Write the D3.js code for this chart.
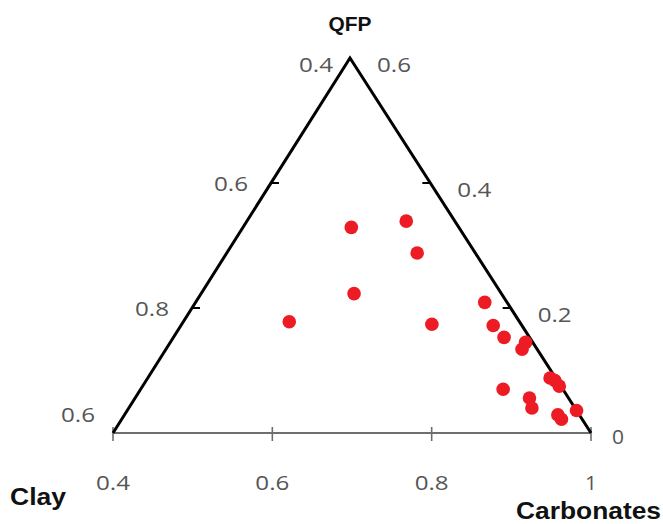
<!DOCTYPE html>
<html>
<head>
<meta charset="utf-8">
<script src="https://cdn.jsdelivr.net/npm/d3@7"></script>
<style>
  html, body { margin: 0; padding: 0; background: #fff; }
  svg { display: block; }
</style>
</head>
<body>
<svg id="chart" width="663" height="524"></svg>
<script>
// Sample compositions (mass fractions): carbonates, QFP and clay
const carbonates = [0.536, 0.600, 0.639, 0.592, 0.533, 0.714, 0.763, 0.792, 0.815, 0.846,
                    0.847, 0.855, 0.895, 0.906, 0.905, 0.913, 0.923, 0.944, 0.952, 0.964];
const qfp        = [0.329, 0.339, 0.288, 0.223, 0.178, 0.174, 0.209, 0.172, 0.153, 0.145,
                    0.134, 0.070, 0.056, 0.040, 0.088, 0.084, 0.075, 0.029, 0.022, 0.036];
const clay       = [0.135, 0.061, 0.073, 0.185, 0.289, 0.112, 0.028, 0.036, 0.032, 0.009,
                    0.019, 0.075, 0.049, 0.054, 0.007, 0.003, 0.002, 0.027, 0.026, 0.000];

// Axis ticks
const baseTicks = [0.4, 0.6, 0.8, 1];
const baseTickLabels = ["0.4", "0.6", "0.8", "1"];
const rightTicks = [0, 0.2, 0.4, 0.6];
const rightTickLabels = ["0", "0.2", "0.4", "0.6"];
const leftTicks = [0, 0.2, 0.4, 0.6];
const leftTickLabels = ["0.6", "0.8", "0.6", "0.4"];

const svg = d3.select("#chart");

// Sub-triangle: carbonates 0.4..1 along the base, QFP 0..0.6 upwards
const xBase = d3.scaleLinear().domain([0.4, 1]).range([113, 591]);
const yQ = d3.scaleLinear().domain([0, 0.6]).range([433, 58]);
const shear = d3.scaleLinear().domain([0, 0.6]).range([0, 237]);

const px = (c, q) => xBase(c) + shear(q);
const py = (c, q) => yQ(q);

const BL = [px(0.4, 0), py(0.4, 0)];
const BR = [px(1, 0), py(1, 0)];
const TOP = [px(0.4, 0.6), py(0.4, 0.6)];

// base (carbonates) axis
svg.append("line")
  .attr("x1", BL[0]).attr("y1", BL[1]).attr("x2", BR[0]).attr("y2", BR[1])
  .attr("stroke", "#6e6e6e").attr("stroke-width", 2);

svg.selectAll("line.btick").data(baseTicks).join("line")
  .attr("class", "btick")
  .attr("x1", d => px(d, 0)).attr("x2", d => px(d, 0))
  .attr("y1", yQ(0) - 6).attr("y2", yQ(0) + 8)
  .attr("stroke", "#6e6e6e").attr("stroke-width", 1.6);

// left and right edges
svg.append("path")
  .attr("d", d3.line()([BL, TOP, BR]))
  .attr("fill", "none").attr("stroke", "#000").attr("stroke-width", 3)
  .attr("stroke-linejoin", "miter");

// edge ticks
svg.selectAll("line.ltick").data(leftTicks.slice(1, 3)).join("line")
  .attr("class", "ltick")
  .attr("x1", d => px(0.4, d)).attr("x2", d => px(0.4, d) + 8)
  .attr("y1", d => py(0.4, d)).attr("y2", d => py(0.4, d))
  .attr("stroke", "#000").attr("stroke-width", 2);

svg.selectAll("line.rtick").data(rightTicks.slice(1, 3)).join("line")
  .attr("class", "rtick")
  .attr("x1", d => px(1 - d, d)).attr("x2", d => px(1 - d, d) - 8)
  .attr("y1", d => py(1 - d, d)).attr("y2", d => py(1 - d, d))
  .attr("stroke", "#000").attr("stroke-width", 2);

// tick labels
const tickFont = "'Open Sans', 'Noto Sans', Arial, sans-serif";
const tickColor = "#555555";
const tickSize = 20;
const labelLen = s => s.length === 1 ? 12 : 34;

svg.selectAll("text.blab").data(baseTicks).join("text")
  .attr("class", "blab")
  .attr("x", d => px(d, 0)).attr("y", 490)
  .attr("text-anchor", "middle")
  .attr("font-family", tickFont).attr("font-size", tickSize).attr("fill", tickColor)
  .attr("textLength", (d, i) => labelLen(baseTickLabels[i]))
  .attr("lengthAdjust", "spacingAndGlyphs")
  .text((d, i) => baseTickLabels[i]);

svg.selectAll("text.rlab").data(rightTicks).join("text")
  .attr("class", "rlab")
  .attr("x", d => px(1 - d, d) + (d === 0 ? 21 : 27)).attr("y", d => py(1 - d, d) + (d === 0 ? 11 : 14))
  .attr("text-anchor", "start")
  .attr("font-family", tickFont).attr("font-size", tickSize).attr("fill", tickColor)
  .attr("textLength", (d, i) => labelLen(rightTickLabels[i]))
  .attr("lengthAdjust", "spacingAndGlyphs")
  .text((d, i) => rightTickLabels[i]);

const leftDx = d => d === 0 ? -18 : d === 0.6 ? -17 : -23;
const leftDy = d => d === 0 ? -11 : d === 0.6 ? 14 : 8;
svg.selectAll("text.llab").data(leftTicks).join("text")
  .attr("class", "llab")
  .attr("x", d => px(0.4, d) + leftDx(d)).attr("y", d => py(0.4, d) + leftDy(d))
  .attr("text-anchor", "end")
  .attr("font-family", tickFont).attr("font-size", tickSize).attr("fill", tickColor)
  .attr("textLength", (d, i) => labelLen(leftTickLabels[i]))
  .attr("lengthAdjust", "spacingAndGlyphs")
  .text((d, i) => leftTickLabels[i]);

// component titles
const titleFont = "'Liberation Sans', Arial, sans-serif";
svg.append("text").attr("x", TOP[0]).attr("y", 31)
  .attr("text-anchor", "middle").attr("font-family", titleFont)
  .attr("font-weight", "bold").attr("font-size", 21).attr("fill", "#111")
  .attr("textLength", 43).attr("lengthAdjust", "spacingAndGlyphs")
  .text("QFP");
svg.append("text").attr("x", 10).attr("y", 505)
  .attr("text-anchor", "start").attr("font-family", titleFont)
  .attr("font-weight", "bold").attr("font-size", 23).attr("fill", "#111")
  .attr("textLength", 56).attr("lengthAdjust", "spacingAndGlyphs")
  .text("Clay");
svg.append("text").attr("x", 516).attr("y", 519)
  .attr("text-anchor", "start").attr("font-family", titleFont)
  .attr("font-weight", "bold").attr("font-size", 23).attr("fill", "#111")
  .attr("textLength", 145).attr("lengthAdjust", "spacingAndGlyphs")
  .text("Carbonates");

// samples
const samples = carbonates.map((c, i) => ({ c, q: qfp[i], k: clay[i] }));
svg.selectAll("circle.pt").data(samples).join("circle")
  .attr("class", "pt")
  .attr("cx", d => px(d.c, d.q)).attr("cy", d => py(d.c, d.q))
  .attr("r", 6.8)
  .attr("fill", "#ed1c24");
</script>
</body>
</html>
